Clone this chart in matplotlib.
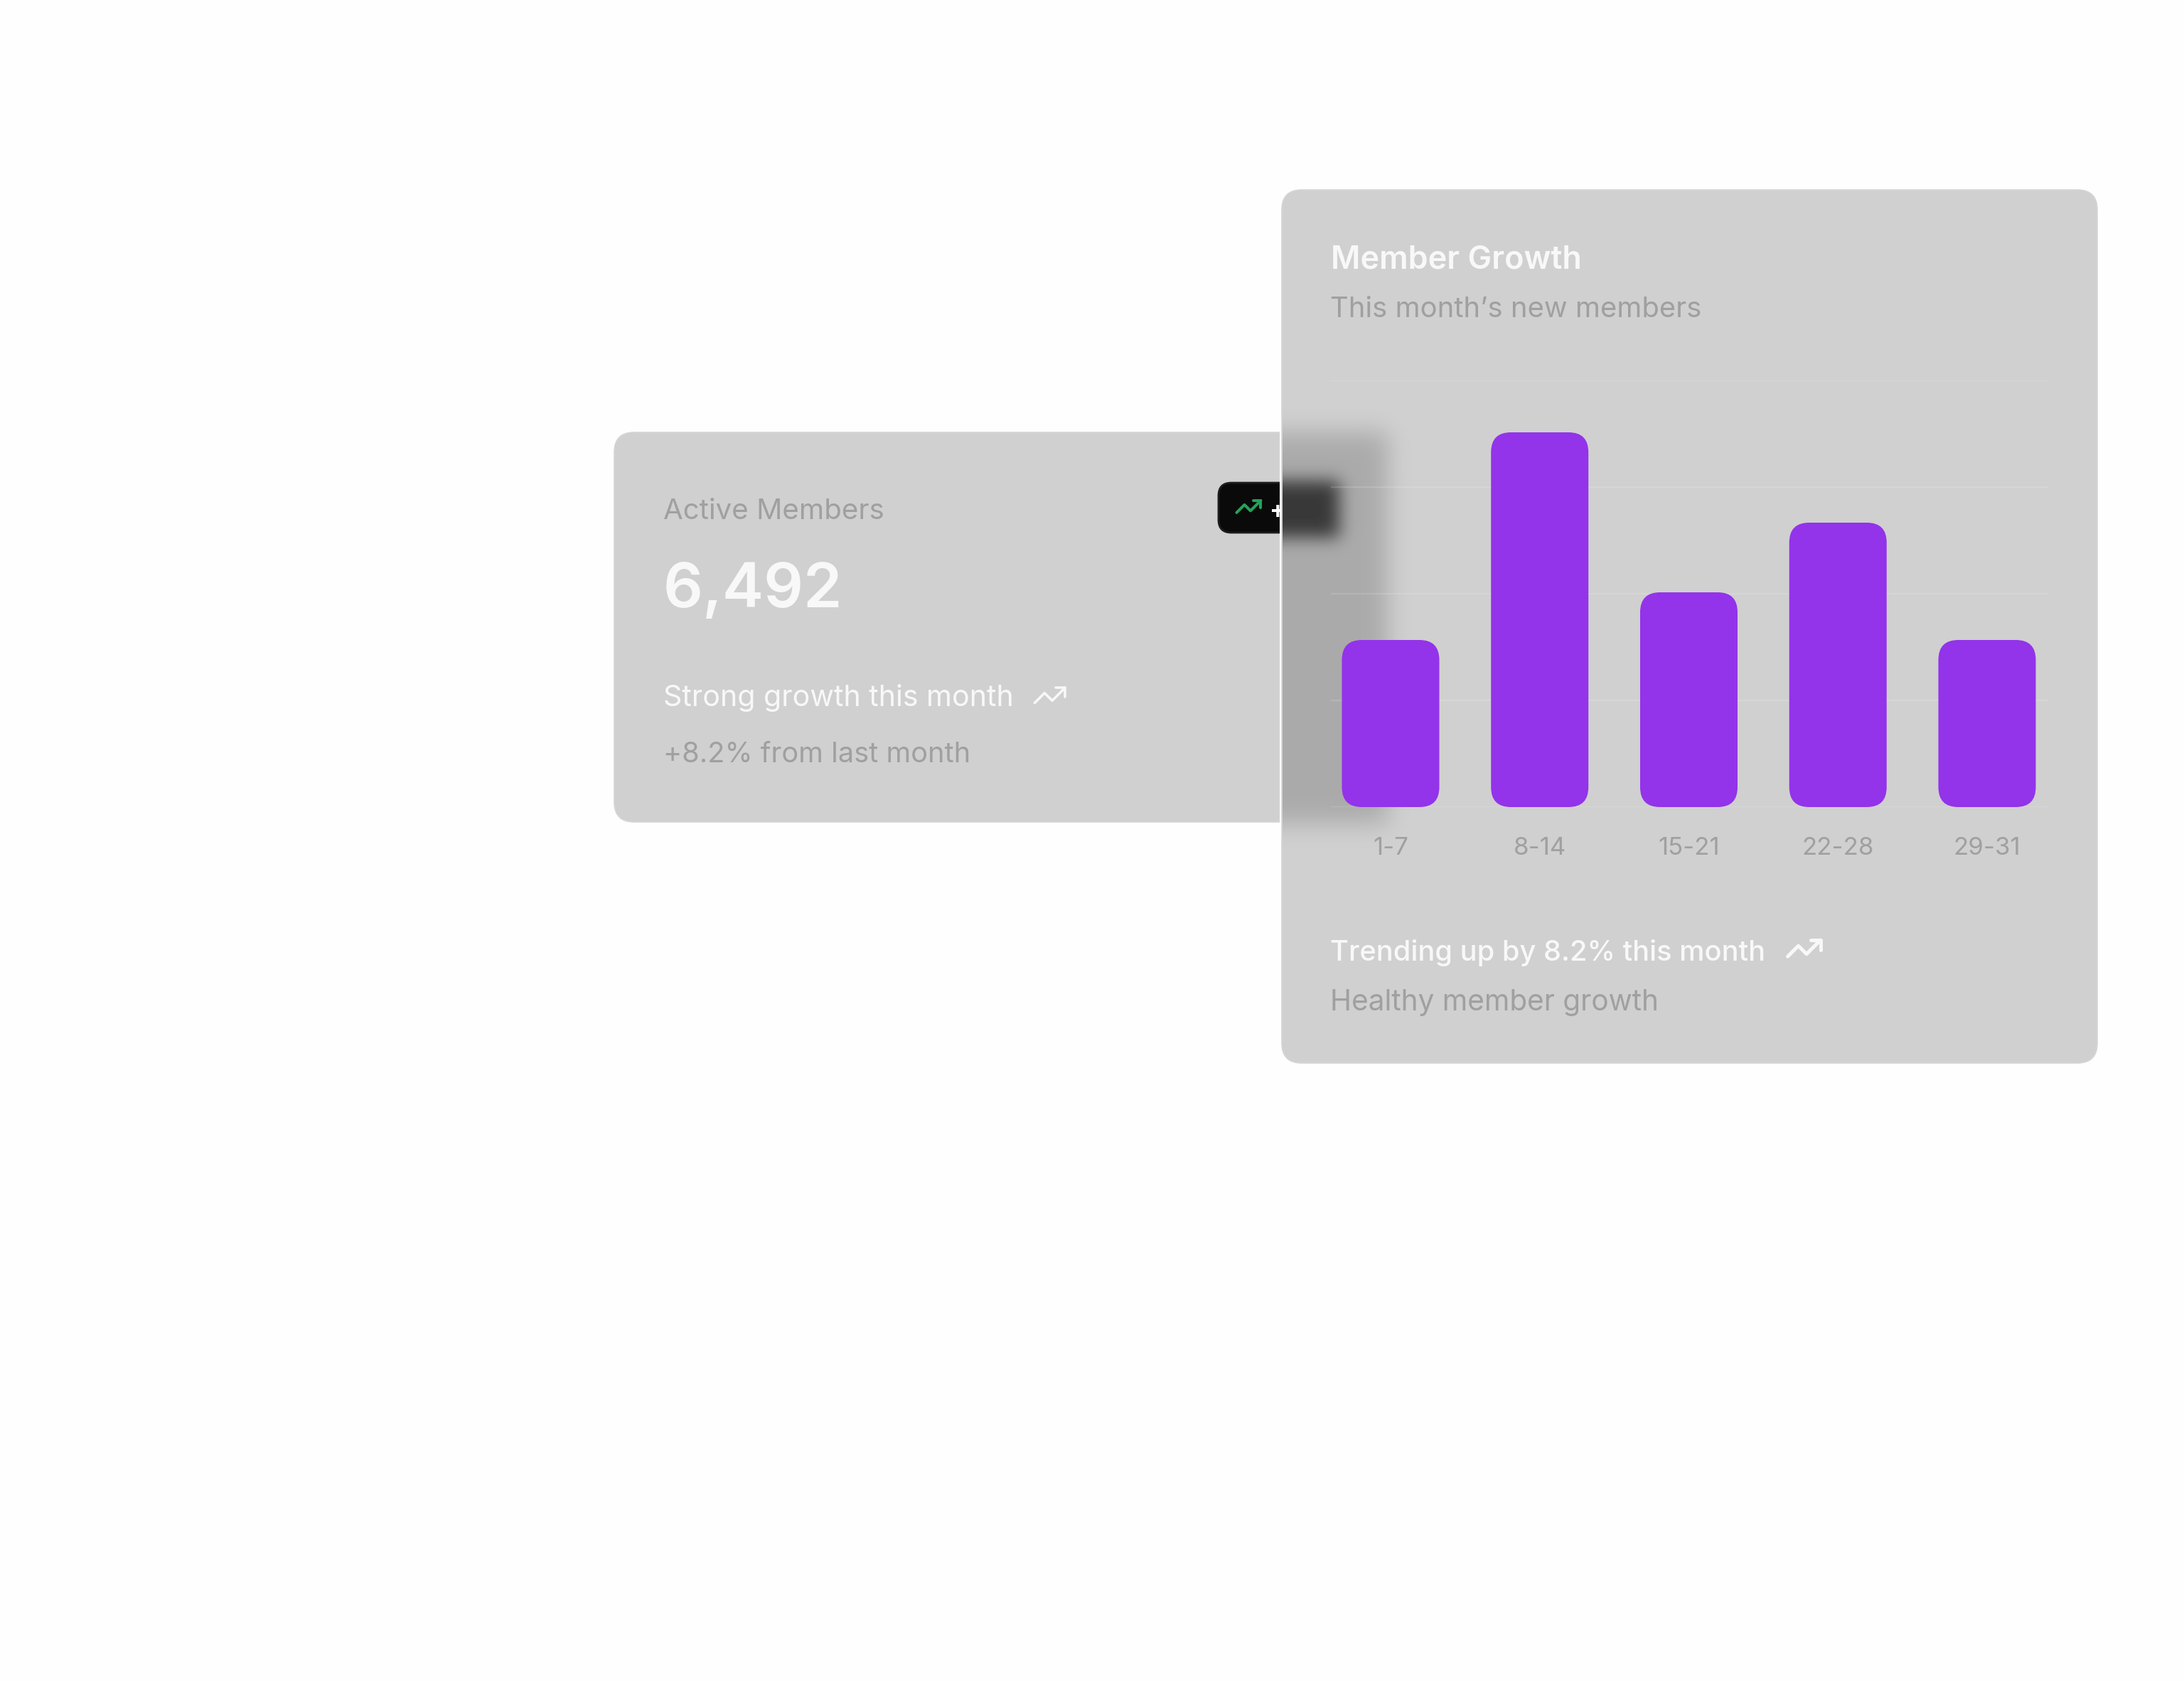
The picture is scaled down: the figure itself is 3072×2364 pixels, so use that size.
import math
import numpy as np
import matplotlib
matplotlib.use("Agg")
import matplotlib.pyplot as plt
from matplotlib.patches import FancyBboxPatch, Rectangle

W, H = 3072, 2364

weeks = ["1-7", "8-14", "15-21", "22-28", "29-31"]
new_members = [940, 2108, 1208, 1600, 940]
grid_ticks = [0, 600, 1200, 1800, 2400]

CARD = "#d0d0d0"
EDGE = "#d5d5d5"
MUTED = "#a0a0a0"
LIGHT = "#f8f8f8"
PURPLE = "#9333ea"
GREEN = "#22a35a"

plt.rcParams["font.family"] = ["Inter", "DejaVu Sans"]

fig = plt.figure(figsize=(W / 100, H / 100), dpi=100, facecolor="#fefefe")

# whole figure in pixel coordinates for the cards and text
bg = fig.add_axes([0, 0, 1, 1], zorder=0)
bg.set_axis_off()


def card(x0, y0, x1, y1, r, color=CARD, edge=EDGE, z=1, lw=1.2):
    p = FancyBboxPatch((x0, y0), x1 - x0, y1 - y0, boxstyle=f"round,pad=0,rounding_size={r}",
                       facecolor=color, edgecolor=edge, linewidth=lw, zorder=z)
    bg.add_patch(p)


def trend_icon(x0, y0, unit, color, px, z=5):
    # same shape as the lucide trending-up icon
    a = [(22, 7), (13.5, 15.5), (8.5, 10.5), (2, 17)]
    b = [(16, 7), (22, 7), (22, 13)]
    for pts in (a, b):
        xs = [x0 + p[0] * unit for p in pts]
        ys = [y0 + p[1] * unit for p in pts]
        bg.plot(xs, ys, color=color, lw=px * 0.72, solid_capstyle="round",
                solid_joinstyle="round", zorder=z)


def soft_box(grid, lo, hi, sigma):
    erf = np.vectorize(math.erf)
    return 0.5 * (erf((grid - lo) / (sigma * 2 ** 0.5)) - erf((grid - hi) / (sigma * 2 ** 0.5)))


# left card runs on under the right one, so its right edge is square
card(864, 608, 1880, 1156, 28, z=1)
card(1714, 679, 1860, 749, 18, color="#0a0a0a", edge="#1c1c1c", z=2, lw=2)
trend_icon(1736, 692, 1.7, GREEN, 4, z=3)
bg.text(1786, 729, "+8.2%", color="white", fontsize=24, fontweight="bold", zorder=3)

bg.text(933, 730, "Active Members", color=MUTED, fontsize=29, zorder=3)
bg.text(933, 854, "6,492", color=LIGHT, fontsize=63, fontweight="semibold", zorder=3)
bg.text(933, 993, "Strong growth this month", color=LIGHT, fontsize=29.6, zorder=3)
trend_icon(1451, 952, 2.15, LIGHT, 3.5, z=3)
bg.text(933, 1072, "+8.2% from last month", color=MUTED, fontsize=28.6, zorder=3)

# thin white gap between the two cards, then the right card on top
bg.add_patch(Rectangle((1800, 590), 4, 590, facecolor="#fefefe", edgecolor="none", zorder=3.5))
card(1803, 267, 2950, 1495, 28, z=4)

# backdrop blur of the left card showing through the right one
bx0, bx1, by0, by1 = 1804, 2080, 530, 1240
gx = np.arange(bx0, bx1) + 0.5
gy = np.arange(by0, by1) + 0.5
m1 = np.outer(soft_box(gy, 608, 1158, 17), soft_box(gx, 864, 1952, 16))
m2 = np.outer(soft_box(gy, 676, 756, 12), soft_box(gx, 1714, 1884, 12))
gray = (0xd0 * (1 - m1) + 0xaa * m1) * (1 - m2) + 0x38 * m2
bg.imshow(gray, extent=(bx0, bx1, by1, by0), cmap="gray", vmin=0, vmax=255,
          aspect="auto", zorder=4.5, interpolation="nearest")

bg.set_xlim(0, W)
bg.set_ylim(H, 0)

bg.text(1872, 377, "Member Growth", color=LIGHT, fontsize=32.4, fontweight="semibold", zorder=6)
bg.text(1871, 446, "This month\u2019s new members", color=MUTED, fontsize=28.8, zorder=6)
bg.text(1871, 1351, "Trending up by 8.2% this month", color=LIGHT, fontsize=28.7, fontweight="medium", zorder=6)
trend_icon(2510, 1306, 2.3, LIGHT, 5, z=6)
bg.text(1871, 1421, "Healthy member growth", color=MUTED, fontsize=29.2, zorder=6)

# bar chart in its own axes
left, right, top, bottom = 1872, 2881, 535, 1135
ax = fig.add_axes([left / W, 1 - bottom / H, (right - left) / W, (bottom - top) / H], zorder=1)
ax.patch.set_alpha(0)
step = 209.75
ax.set_xlim(-(1956 - left) / step, (right - 1956) / step)
ax.set_ylim(0, 2400)
ax.set_yticks(grid_ticks)
ax.set_yticklabels([])
ax.set_xticks(range(len(weeks)))
ax.set_xticklabels(weeks, color=MUTED, fontsize=25)
ax.tick_params(length=0)
ax.tick_params(axis="x", pad=30)
ax.grid(axis="y", color="white", alpha=0.14, linewidth=1.6)
ax.set_axisbelow(True)
for s in ax.spines.values():
    s.set_visible(False)

bar_w = 137 / step
aspect = (2400 / (bottom - top)) * step
for i, v in enumerate(new_members):
    ax.add_patch(FancyBboxPatch((i - bar_w / 2, 0), bar_w, v,
                                boxstyle=f"round,pad=0,rounding_size={28 / step}",
                                mutation_aspect=aspect, facecolor=PURPLE, edgecolor="none", zorder=3))

fig.savefig("out.png", dpi=100, facecolor=fig.get_facecolor())
